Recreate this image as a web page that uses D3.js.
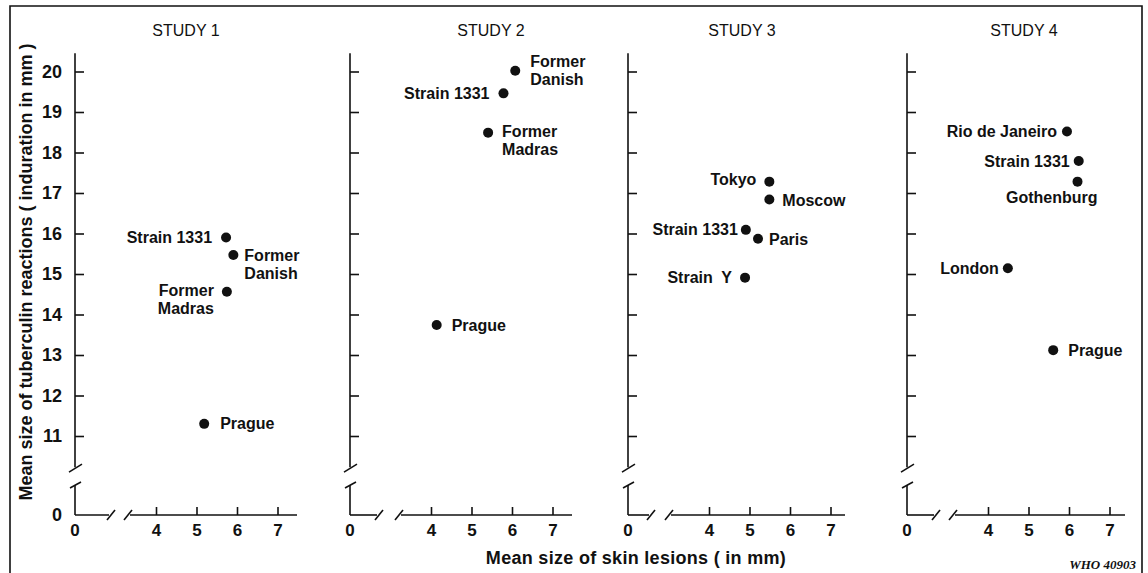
<!DOCTYPE html>
<html>
<head>
<meta charset="utf-8">
<script src="https://cdn.jsdelivr.net/npm/d3@7"></script>
<style>
  body { margin: 0; background: #fff; }
  svg { display: block; }
  text { font-family: "Liberation Sans", Arial, Helvetica, sans-serif; fill: #111; }
</style>
</head>
<body>
<div id="chart-container"></div>
<script>
// ---- data ----
const studyTitles = ['STUDY 1', 'STUDY 2', 'STUDY 3', 'STUDY 4'];
const yTickValues = [11, 12, 13, 14, 15, 16, 17, 18, 19, 20];
const xTickValues = [4, 5, 6, 7];

const study1Strains = ['Strain 1331', 'Former\nDanish', 'Former\nMadras', 'Prague'];
const study1Lesions = [5.73, 5.91, 5.75, 5.19];
const study1Reactions = [15.9, 15.47, 14.56, 11.3];

const study2Strains = ['Former\nDanish', 'Strain 1331', 'Former\nMadras', 'Prague'];
const study2Lesions = [6.08, 5.79, 5.41, 4.14];
const study2Reactions = [20.02, 19.46, 18.49, 13.74];

const study3Strains = ['Tokyo', 'Moscow', 'Strain 1331', 'Paris', 'Strain  Y'];
const study3Lesions = [5.49, 5.49, 4.91, 5.21, 4.89];
const study3Reactions = [17.28, 16.84, 16.09, 15.87, 14.91];

const study4Strains = ['Rio de Janeiro', 'Strain 1331', 'Gothenburg', 'London', 'Prague'];
const study4Lesions = [5.95, 6.24, 6.21, 4.49, 5.61];
const study4Reactions = [18.52, 17.79, 17.28, 15.14, 13.12];

// ---- layout ----
const width = 1148, height = 573;
const panelX = [75, 350, 628, 907];
const titleX = [186, 491, 742, 1024];
const xAxisEnd = [222, 222, 217, 218];
const xBreakA = [36, 29, 23, 29];
const xBreakB = [53, 49, 41, 46];
const zeroY = 515;
const lowerAxisTop = 485;

// label placement: text anchor, dx from dot, dy of first line
const labelPlaces = [
  [['end', -14, 0], ['start', 11, 0], ['end', -13, -1], ['start', 16, 0]],
  [['start', 15, -9], ['end', -14, 0], ['start', 14, -1], ['start', 15, 0]],
  [['end', -13, -2], ['start', 13, 1], ['end', -8, 0], ['start', 11, 1], ['end', -13, 0]],
  [['end', -10, 0], ['end', -9, 0], ['end', 20, 16], ['end', -9, 0], ['start', 15, 0]]
];

const studies = [
  { names: study1Strains, xs: study1Lesions, ys: study1Reactions },
  { names: study2Strains, xs: study2Lesions, ys: study2Reactions },
  { names: study3Strains, xs: study3Lesions, ys: study3Reactions },
  { names: study4Strains, xs: study4Lesions, ys: study4Reactions }
];

const xScale = d3.scaleLinear().domain([4, 7]).range([81, 202.5]);
const yScale = d3.scaleLinear().domain([11, 20]).range([436, 71.5]);

const svg = d3.select('#chart-container')
  .append('svg')
  .attr('width', width)
  .attr('height', height);

// frame
svg.append('path')
  .attr('class', 'frame')
  .attr('d', `M10,${height + 5}V6H1142V${height + 5}`)
  .attr('fill', 'none')
  .attr('stroke', '#111')
  .attr('stroke-width', 1.6);

const line = d3.line();

studies.forEach((study, i) => {
  const g = svg.append('g').attr('transform', `translate(${panelX[i]}, 0)`);

  g.append('text')
    .attr('x', titleX[i] - panelX[i])
    .attr('y', 36)
    .attr('text-anchor', 'middle')
    .attr('font-size', 16)
    .text(studyTitles[i]);

  // y axis (ticks only, domain drawn by hand for the break)
  const yAxis = d3.axisLeft(yScale)
    .tickValues(yTickValues)
    .tickSizeInner(-9)
    .tickSizeOuter(0)
    .tickPadding(13)
    .tickFormat(i === 0 ? d3.format('d') : () => '');
  const yg = g.append('g').attr('class', 'y-axis').call(yAxis);
  yg.select('.domain').remove();

  const yBreak = yScale(10.23);
  g.append('path').attr('d', line([[0, yScale(20.45)], [0, yBreak]]));
  g.append('path').attr('d', line([[-6, yBreak + 5], [7, yBreak - 3]]));
  g.append('path').attr('d', line([[-5, lowerAxisTop + 3], [6, lowerAxisTop - 3]]));
  g.append('path').attr('d', line([[0, lowerAxisTop], [0, zeroY]]));

  // x axis
  const xAxis = d3.axisBottom(xScale)
    .tickValues(xTickValues)
    .tickSizeInner(-8)
    .tickSizeOuter(0)
    .tickPadding(9)
    .tickFormat(d3.format('d'));
  const xg = g.append('g')
    .attr('class', 'x-axis')
    .attr('transform', `translate(0, ${zeroY})`)
    .call(xAxis);
  xg.select('.domain').remove();

  g.append('path').attr('d', line([[0, zeroY], [xBreakA[i] - 2, zeroY]]));
  g.append('path').attr('d', line([[xBreakA[i] - 4, zeroY + 5], [xBreakA[i] + 4, zeroY - 5]]));
  g.append('path').attr('d', line([[xBreakB[i] - 4, zeroY + 5], [xBreakB[i] + 4, zeroY - 5]]));
  g.append('path').attr('d', line([[xBreakB[i] + 2, zeroY], [xAxisEnd[i], zeroY]]));

  g.append('text')
    .attr('class', 'zero x-zero')
    .attr('x', 0)
    .attr('y', zeroY + 9)
    .attr('dy', '0.71em')
    .attr('text-anchor', 'middle')
    .text('0');

  if (i === 0) {
    g.append('text')
      .attr('class', 'zero y-zero')
      .attr('x', -13)
      .attr('y', zeroY)
      .attr('dy', '0.32em')
      .attr('text-anchor', 'end')
      .text('0');
  }

  // points
  const pts = study.names.map((name, k) => ({ name, x: study.xs[k], y: study.ys[k], place: labelPlaces[i][k] }));

  g.selectAll('circle')
    .data(pts)
    .enter()
    .append('circle')
    .attr('cx', (d) => xScale(d.x))
    .attr('cy', (d) => yScale(d.y))
    .attr('r', 5)
    .attr('fill', '#111');

  const labels = g.selectAll('text.label')
    .data(pts)
    .enter()
    .append('text')
    .attr('class', 'label')
    .attr('font-size', 16)
    .attr('font-weight', 'bold')
    .attr('text-anchor', (d) => d.place[0])
    .style('white-space', 'pre');

  labels.selectAll('tspan')
    .data((d) => d.name.split('\n').map((t, j) => ({ t, j, d })))
    .enter()
    .append('tspan')
    .attr('x', (l) => xScale(l.d.x) + l.d.place[1])
    .attr('y', (l) => yScale(l.d.y) + l.d.place[2] + l.j * 18)
    .attr('dy', '0.35em')
    .text((l) => l.t);
});

// giving style to axis lines and texts
svg.selectAll('g > path, .x-axis line, .y-axis line')
  .attr('stroke', '#111')
  .attr('stroke-width', 1.6)
  .attr('fill', 'none');
svg.selectAll('.x-axis text, text.x-zero')
  .attr('font-size', 17)
  .attr('font-weight', 'bold')
  .attr('font-family', '"Liberation Sans", Arial, sans-serif')
  .attr('fill', '#111');
svg.selectAll('.y-axis text, text.y-zero')
  .attr('font-size', 18)
  .attr('font-weight', 'bold')
  .attr('font-family', '"Liberation Sans", Arial, sans-serif')
  .attr('fill', '#111');

// axis titles
svg.append('text')
  .attr('transform', 'translate(26, 272) rotate(-90)')
  .attr('text-anchor', 'middle')
  .attr('dy', '0.35em')
  .attr('font-size', 18)
  .attr('font-weight', 'bold')
  .style('white-space', 'pre')
  .text('Mean size of tuberculin reactions ( induration in mm )');

svg.append('text')
  .attr('x', 636)
  .attr('y', 564)
  .attr('text-anchor', 'middle')
  .attr('font-size', 18)
  .attr('font-weight', 'bold')
  .attr('letter-spacing', 0.3)
  .style('white-space', 'pre')
  .text('Mean size of skin lesions ( in mm)');

svg.append('text')
  .attr('x', 1136)
  .attr('y', 569)
  .attr('text-anchor', 'end')
  .attr('font-size', 13)
  .attr('font-weight', 'bold')
  .attr('font-style', 'italic')
  .style('font-family', '"Liberation Serif", "Times New Roman", serif')
  .text('WHO 40903');
</script>
</body>
</html>
